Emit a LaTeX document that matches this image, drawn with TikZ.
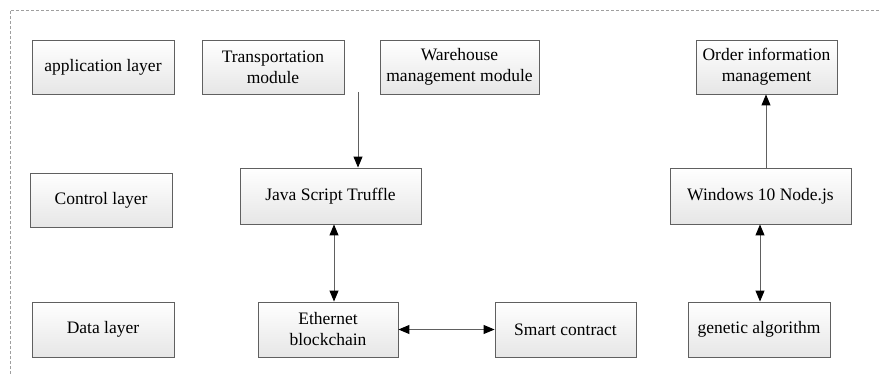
\documentclass[tikz,border=0pt]{standalone}
\usepackage{fontspec}
\setmainfont{Liberation Serif}
\usetikzlibrary{arrows.meta}
\definecolor{edge}{HTML}{606060}
\definecolor{shade}{HTML}{E6E6E6}
\tikzset{
  box/.style={draw=edge, line width=0.9pt, top color=white, bottom color=shade,
    inner sep=0pt, align=center, font=\rmfamily\fontsize{17.5}{21}\selectfont},
  link/.style={draw=edge, line width=1pt, -{Triangle[length=11pt,width=9pt,color=black]}},
  biglink/.style={draw=edge, line width=1pt, {Triangle[length=11pt,width=9pt,color=black]}-{Triangle[length=11pt,width=9pt,color=black]}},
  frame/.style={draw=gray!75, line width=0.8pt, dash pattern=on 3pt off 2pt}
}
\begin{document}
\begin{tikzpicture}[x=1pt,y=-1pt]
\useasboundingbox (0,0) rectangle (880,374);
% outer dashed frame
\draw[frame] (10,374) -- (10,10) -- (880,10);

% layer labels
\node[box, minimum width=142pt, minimum height=54pt] (app) at (103,67) {application layer};
\node[box, minimum width=142pt, minimum height=54pt] (ctl) at (101,200) {Control layer};
\node[box, minimum width=142pt, minimum height=55pt] (dat) at (103,329.5) {Data layer};

% application layer modules
\node[box, minimum width=142pt, minimum height=54pt] (trans) at (273,67) {Transportation\\module};
\node[box, minimum width=159pt, minimum height=54pt] (ware) at (459.5,67) {Warehouse\\management module};
\node[box, minimum width=141pt, minimum height=54pt] (order) at (766.5,67) {Order information\\management};

% control layer
\node[box, minimum width=181pt, minimum height=56pt] (truffle) at (330.5,196) {Java Script Truffle};
\node[box, minimum width=181pt, minimum height=56pt] (node) at (760.5,196) {Windows 10 Node.js};

% data layer
\node[box, minimum width=140pt, minimum height=55pt] (eth) at (328,329.5) {Ethernet\\blockchain};
\node[box, minimum width=141pt, minimum height=55pt] (smart) at (565.5,329.5) {Smart contract};
\node[box, minimum width=142pt, minimum height=55pt] (ga) at (759,329.5) {genetic algorithm};

% connectors
\coordinate (feed) at (358,92);
\draw[link] (feed) -- (feed |- truffle.north);
\draw[biglink] (truffle.south -| 334,0) -- (eth.north -| 334,0);
\draw[biglink] (eth.east) -- (smart.west);
\draw[link] (node.north -| 766,0) -- (order.south -| 766,0);
\draw[biglink] (node.south -| 760,0) -- (ga.north -| 760,0);
\end{tikzpicture}
\end{document}
